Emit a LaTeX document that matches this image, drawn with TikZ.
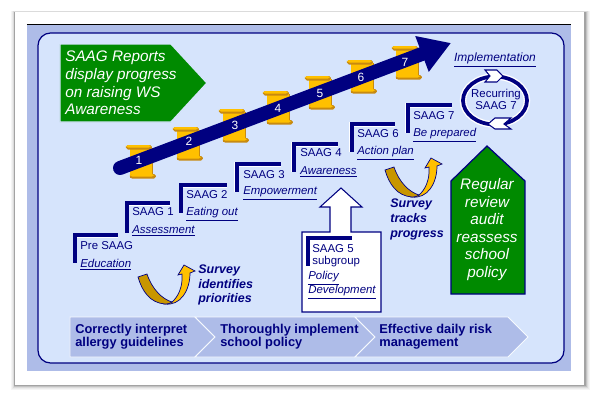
\documentclass[tikz,border=0pt]{standalone}
\usepackage{fontspec}
\setmainfont{Liberation Sans}
\usetikzlibrary{arrows.meta,positioning}
\definecolor{navyline}{HTML}{000080}
\definecolor{panelblue}{HTML}{AEBCE8}
\definecolor{paleblue}{HTML}{D6E4FC}
\definecolor{reportgreen}{HTML}{008A00}
\definecolor{scrollgold}{HTML}{FFC000}
\definecolor{scrolldark}{HTML}{C88A10}
\definecolor{curvedark}{HTML}{C89600}
\newcommand{\pxfont}[2]{\fontsize{#1}{#2}\selectfont}
\tikzset{
  greenshape/.style={fill=reportgreen, draw=paleblue, thick},
  greenlabel/.style={text=white, font=\pxfont{8.7}{10}\itshape, align=center, inner sep=0pt},
  steplabel/.style={text=navyline, font=\pxfont{6.5}{7.5}, anchor=west, inner sep=0pt, align=left},
  topiclabel/.style={text=navyline, font=\pxfont{6.5}{7.5}\itshape, inner sep=0pt, align=left},
  bracket/.style={draw=navyline, line width=0.065cm, preaction={draw=white, line width=0.1cm}},
  chevron/.style={fill=panelblue, draw=white!80!paleblue, line width=0.5pt},
  chevlabel/.style={text=navyline, font=\pxfont{7.3}{7.4}\bfseries, anchor=west, inner sep=0pt, align=left},
  surveylabel/.style={text=navyline, font=\pxfont{7.1}{8.3}\bfseries\itshape, anchor=west, inner sep=0pt, align=left},
  numlabel/.style={text=white, font=\pxfont{6.8}{8}, inner sep=0pt},
  loopchev/.style={fill=white, draw=navyline, line width=0.6pt},
  scroll/.pic={
    \fill[scrolldark] (4,3) rectangle (27,33);
    \fill[scrollgold] (4,3) rectangle (26,31);
    \fill[scrolldark,rounded corners=1pt] (4,29) rectangle (30,33.5);
    \fill[scrollgold,rounded corners=1pt] (4,29) rectangle (28,31.5);
    \fill[scrolldark,rounded corners=1pt] (0,0) rectangle (26,4.5);
    \fill[scrollgold,rounded corners=1pt] (0,0) rectangle (25,2.5);
  },
  uturn/.pic={
    \draw[navyline, fill=scrollgold, line width=0.4pt] (27,27) .. controls (42,29) and (52,14) .. (52,-4) -- (57,-6) -- (46,-12) -- (40,-2) -- (44,-3) .. controls (45,10) and (40,20) .. (34,25) -- cycle;
    \draw[navyline, fill=curvedark, line width=0.4pt] (0,0) -- (9,-3) .. controls (14,12) and (24,22) .. (34,25) .. controls (31,27) and (29,27) .. (27,27) .. controls (12,26) and (4,14) .. (0,0) -- cycle;
  }
}
\begin{document}
\begin{tikzpicture}[x=0.02cm,y=-0.02cm]
  \useasboundingbox (0,0) rectangle (600,400);
  % card with its soft shadow
  \fill[white] (0,0) rectangle (600,400);
  \foreach \grow/\shade in {5/4,4/8,3/14,2/24,1/36}
    \fill[black!\shade] (15-\grow*0.7,12-\grow*0.2) rectangle (585+\grow,385+\grow);
  \fill[white] (15,12) rectangle (584,385);
  \fill[panelblue] (27,24) rectangle (571,371);
  \draw[black, line width=0.5pt] (27,24) -- (571,24);
  \draw[navyline, fill=paleblue, line width=0.7pt, rounded corners=0.25cm] (38,33) rectangle (564,363);

  % report banner
  \draw[greenshape] (60,44) -- (171,44) -- (207,83) -- (171,122) -- (60,122) -- cycle;
  \node[greenlabel, align=left, anchor=west] (reports) at (65,83) {SAAG Reports\\display progress\\on raising WS\\Awareness};

  % scrolls and progress arrow
  \foreach \sx/\sy in {126/145,173/127,219/109,263/91,305/76,347/60,392/46}
    \pic at (\sx,\sy) {scroll};
  \coordinate (arrowstart) at (120,168);
  \coordinate (arrowtip) at (451,43);
  \draw[navyline, line width=0.28cm, line cap=round, -{Triangle[length=0.62cm,width=0.72cm]}] (arrowstart) -- (arrowtip);
  \foreach \nx/\ny/\n in {139/160/1,189/141/2,235/125/3,278/108/4,320/93/5,361/77/6,405/62/7}
    \node[numlabel] (num\n) at (\nx,\ny) {\n};

  % saag steps
  \draw[bracket] (118,235) -- (75,235) -- (75,263);
  \node[steplabel] (presaag) at (80,246) {Pre SAAG};
  \node[topiclabel, below=0.29cm of presaag.south west, anchor=west] (education) {\underline{Education}};
  \draw[bracket] (170,203) -- (127,203) -- (127,233);
  \node[steplabel] (saagone) at (132,212) {SAAG 1};
  \node[topiclabel, below=0.29cm of saagone.south west, anchor=west] (assessment) {\underline{Assessment}};
  \draw[bracket] (227,185) -- (181,185) -- (181,213);
  \node[steplabel] (saagtwo) at (186,195) {SAAG 2};
  \node[topiclabel, below=0.29cm of saagtwo.south west, anchor=west] (eating) {\underline{Eating out}};
  \draw[bracket] (281,164) -- (237,164) -- (237,192);
  \node[steplabel] (saagthree) at (243,175) {SAAG 3};
  \node[topiclabel, below=0.29cm of saagthree.south west, anchor=west] (empower) {\underline{Empowerment}};
  \draw[bracket] (338,144) -- (294,144) -- (294,172);
  \node[steplabel] (saagfour) at (300,153) {SAAG 4};
  \node[topiclabel, below=0.29cm of saagfour.south west, anchor=west] (awareness) {\underline{Awareness}};
  \draw[bracket] (395,124) -- (352,124) -- (352,152);
  \node[steplabel] (saagsix) at (357,134) {SAAG 6};
  \node[topiclabel, below=0.29cm of saagsix.south west, anchor=west] (action) {\underline{Action plan}};
  \draw[bracket] (452,105) -- (408,105) -- (408,133);
  \node[steplabel] (saagseven) at (413,116) {SAAG 7};
  \node[topiclabel, below=0.29cm of saagseven.south west, anchor=west] (prepared) {\underline{Be prepared}};

  % subgroup box with white arrow
  \draw[navyline, fill=white, line width=0.6pt] (302,232) -- (330,232) -- (330,207) -- (320,207) -- (341,188) -- (362,207) -- (351,207) -- (351,232) -- (381,232) -- (381,312) -- (302,312) -- cycle;
  \draw[bracket] (352,238) -- (308,238) -- (308,266);
  \node[steplabel] (saagfive) at (312,249) {SAAG 5};
  \node[steplabel] (subgroup) at (312,262) {subgroup};
  \node[topiclabel, anchor=west] (policy) at (308,278) {\underline{Policy}};
  \node[topiclabel, anchor=west] (development) at (308,292) {\underline{Development}};

  % recurring loop
  \node[topiclabel, font=\pxfont{6.8}{8}\itshape] (implementation) at (495,60) {\underline{Implementation}};
  \draw[white, line width=0.13cm] (495,100.5) ellipse [x radius=32, y radius=24];
  \draw[navyline, line width=0.075cm] (495,100.5) ellipse [x radius=32, y radius=24];
  \draw[loopchev] (485,70) -- (497,70) -- (503,76) -- (497,82) -- (485,82) -- (490,76) -- cycle;
  \draw[loopchev] (511,118) -- (495,118) -- (488,124) -- (495,129) -- (511,129) -- (504,124) -- cycle;
  \node[steplabel, anchor=center, align=center, font=\pxfont{6.5}{6.8}] (recurring) at (496,99.5) {Recurring\\SAAG 7};

  % review house
  \draw[navyline, fill=reportgreen, line width=0.7pt] (487,146) -- (525,181) -- (525,294) -- (451,294) -- (451,181) -- cycle;
  \node[greenlabel] (review) at (487,229.5) {Regular\\review\\audit\\reassess\\school\\policy};

  % survey curves
  \pic at (138,277) {uturn};
  \pic at (385,170) {uturn};
  \node[surveylabel] (identifies) at (198,285) {Survey\\identifies\\priorities};
  \node[surveylabel] (tracks) at (390,219.5) {Survey\\tracks\\progress};

  % bottom chevrons
  \draw[chevron] (70,317) -- (195,317) -- (215,337) -- (195,357) -- (70,357) -- cycle;
  \draw[chevron] (195,317) -- (355,317) -- (375,337) -- (355,357) -- (195,357) -- (215,337) -- cycle;
  \draw[chevron] (355,317) -- (508,317) -- (528,337) -- (508,357) -- (355,357) -- (375,337) -- cycle;
  \node[chevlabel] (correctly) at (75,337) {Correctly interpret\\allergy guidelines};
  \node[chevlabel] (thoroughly) at (220,337) {Thoroughly implement\\school policy};
  \node[chevlabel] (effective) at (379,337) {Effective daily risk\\management};
\end{tikzpicture}
\end{document}
